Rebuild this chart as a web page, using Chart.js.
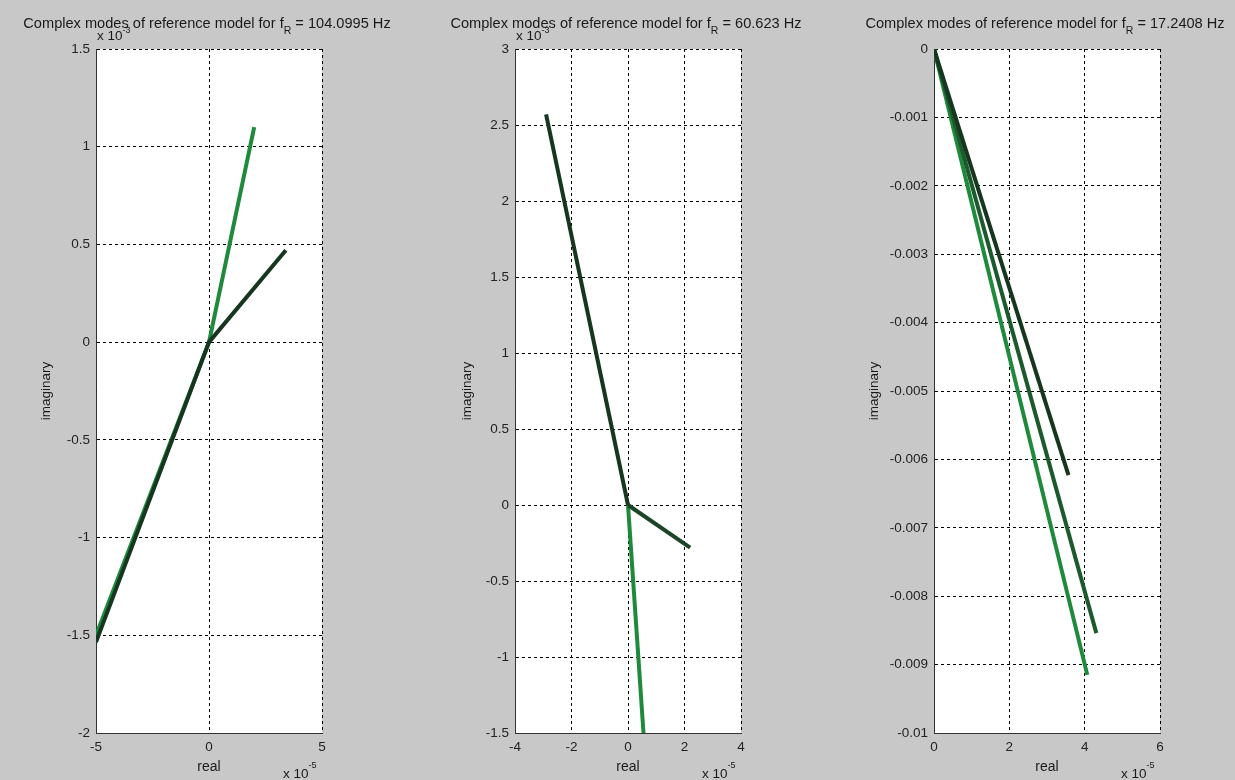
<!DOCTYPE html>
<html>
<head>
<meta charset="utf-8">
<script src="https://cdn.jsdelivr.net/npm/chart.js@4.4.1/dist/chart.umd.min.js"></script>
<style>
  html, body { margin: 0; padding: 0; background: #c8c8c8; width: 1235px; height: 780px; overflow: hidden; }
  canvas { position: absolute; top: 0; }
</style>
</head>
<body>
<canvas id="c1" width="419" height="780" style="left:0px"></canvas>
<canvas id="c2" width="419" height="780" style="left:419px"></canvas>
<canvas id="c3" width="397" height="780" style="left:838px"></canvas>
<script>
// ---- data (real in x10^-5, imaginary in x10^-3 for panels 1-2, raw for panel 3) ----
const freqs = ['104.0995', '60.623', '17.2408'];

// panel 1
const p1GreenRe = [-5.0, 0, 2.0];
const p1GreenIm = [-1.5, 0, 1.1];
const p1DarkRe = [-5.0, 0, 3.4];
const p1DarkIm = [-1.535, 0, 0.47];

// panel 2
const p2DarkRe = [-2.9, 0];
const p2DarkIm = [2.57, 0];
const p2MidRe = [0, 2.2];
const p2MidIm = [0, -0.28];
const p2GreenRe = [0, 0.6];
const p2GreenIm = [0, -1.64];

// panel 3
const p3DarkRe = [0, 3.57];
const p3DarkIm = [0, -0.00623];
const p3MidRe = [0, 4.31];
const p3MidIm = [0, -0.00854];
const p3GreenRe = [0, 4.07];
const p3GreenIm = [0, -0.00915];

// axis limits [min, max, step]
const p1X = [-5, 5, 5], p1Y = [-2, 1.5, 0.5];
const p2X = [-4, 4, 2], p2Y = [-1.5, 3, 0.5];
const p3X = [0, 6, 2], p3Y = [-0.01, 0, 0.001];

const DARK = '#17361f';
const MID = '#1c5a2d';
const MID2 = '#1b4526';
const GREEN = '#1f8a3c';
const FONT = '"Liberation Sans", Arial, sans-serif';

function pts(re, im) {
  return re.map((r, i) => ({ x: r, y: im[i] }));
}

function line(re, im, color) {
  return {
    data: pts(re, im),
    showLine: true,
    borderColor: color,
    borderWidth: 4,
    pointRadius: 0,
    fill: false,
    clip: 0
  };
}

function fmt(v) {
  return String(parseFloat(v.toFixed(6)));
}

// text overlay: title with subscript, axis labels, exponent labels
function labelsPlugin(freq, ylabelX, yExp) {
  return {
    id: 'labels',
    beforeDraw(chart) {
      const a = chart.chartArea;
      const ctx = chart.ctx;
      ctx.save();
      ctx.fillStyle = '#fff';
      ctx.fillRect(a.left, a.top, a.right - a.left, a.bottom - a.top);
      ctx.restore();
    },
    afterDraw(chart) {
      const a = chart.chartArea;
      const ctx = chart.ctx;
      ctx.save();
      ctx.fillStyle = '#1a1a1a';
      ctx.textBaseline = 'alphabetic';

      // title
      const big = '14.6px ' + FONT, small = '10.5px ' + FONT;
      const t1 = 'Complex modes of reference model for f';
      const t2 = ' = ' + freq + ' Hz';
      ctx.font = big;
      const w1 = ctx.measureText(t1).width, w3 = ctx.measureText(t2).width;
      ctx.font = small;
      const w2 = ctx.measureText('R').width;
      let x = 207 - (w1 + w2 + w3) / 2;
      ctx.font = big;
      ctx.textAlign = 'left';
      ctx.fillText(t1, x, 28);
      ctx.font = small;
      ctx.fillText('R', x + w1, 34);
      ctx.font = big;
      ctx.fillText(t2, x + w1 + w2, 28);

      // y exponent label
      if (yExp) {
        ctx.font = '13.5px ' + FONT;
        ctx.fillText('x 10', a.left + 1, 40);
        const wx = ctx.measureText('x 10').width;
        ctx.font = '9px ' + FONT;
        ctx.fillText(yExp, a.left + 1 + wx, 33);
      }

      // x exponent label
      ctx.font = '13.5px ' + FONT;
      ctx.fillText('x 10', a.right - 39, 778);
      const wx2 = ctx.measureText('x 10').width;
      ctx.font = '9px ' + FONT;
      ctx.fillText('-5', a.right - 39 + wx2, 768);

      // x axis label
      ctx.font = '14px ' + FONT;
      ctx.textAlign = 'center';
      ctx.fillText('real', (a.left + a.right) / 2, 771);

      // y axis label
      ctx.font = '13.5px ' + FONT;
      ctx.translate(ylabelX, (a.top + a.bottom) / 2);
      ctx.rotate(-Math.PI / 2);
      ctx.fillText('imaginary', 0, 4);
      ctx.restore();
    }
  };
}

function makeChart(id, datasets, xr, yr, freq, ylabelX, yExp) {
  const canvas = document.getElementById(id);
  const W = canvas.width;
  const fitX = s => { s.height = 47; s.paddingLeft = 0; s.paddingRight = 0; };
  const fitY = s => { s.width = 96; s.paddingTop = 0; s.paddingBottom = 0; };
  return new Chart(canvas, {
    type: 'scatter',
    data: { datasets },
    options: {
      responsive: false,
      animation: false,
      devicePixelRatio: 1,
      layout: { padding: { left: 0, top: 49, right: W - 322, bottom: 0 } },
      plugins: { legend: { display: false }, tooltip: { enabled: false } },
      scales: {
        x: {
          type: 'linear',
          min: xr[0], max: xr[1],
          afterFit: fitX,
          grid: { color: '#000', lineWidth: 1, drawTicks: false },
          border: { display: true, color: '#333', width: 1, dash: [3, 3] },
          ticks: {
            stepSize: xr[2], padding: 6, color: '#222',
            font: { family: FONT, size: 13.5 },
            callback: fmt, maxRotation: 0
          }
        },
        y: {
          type: 'linear',
          min: yr[0], max: yr[1],
          afterFit: fitY,
          grid: { color: '#000', lineWidth: 1, drawTicks: false },
          border: { display: true, color: '#333', width: 1, dash: [3, 3] },
          ticks: {
            stepSize: yr[2], padding: 6, color: '#222',
            font: { family: FONT, size: 13.5 },
            callback: fmt
          }
        }
      }
    },
    plugins: [labelsPlugin(freq, ylabelX, yExp)]
  });
}

makeChart('c1', [
  line(p1DarkRe, p1DarkIm, DARK),
  line(p1GreenRe, p1GreenIm, GREEN)
], p1X, p1Y, freqs[0], 46, '-3');

makeChart('c2', [
  line(p2DarkRe, p2DarkIm, DARK),
  line(p2MidRe, p2MidIm, MID2),
  line(p2GreenRe, p2GreenIm, GREEN)
], p2X, p2Y, freqs[1], 48, '-3');

makeChart('c3', [
  line(p3DarkRe, p3DarkIm, DARK),
  line(p3MidRe, p3MidIm, MID),
  line(p3GreenRe, p3GreenIm, GREEN)
], p3X, p3Y, freqs[2], 36, null);
</script>
</body>
</html>
